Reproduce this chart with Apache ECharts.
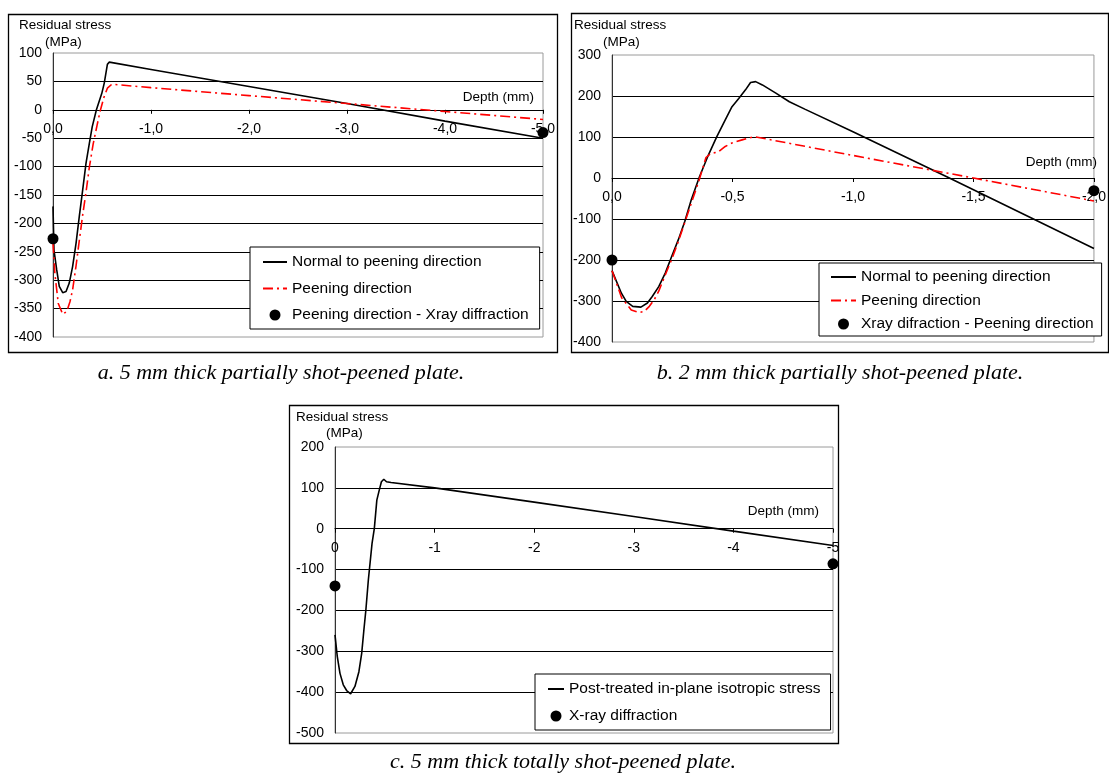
<!DOCTYPE html>
<html><head><meta charset="utf-8">
<script src="https://cdn.jsdelivr.net/npm/echarts@6.0.0/dist/echarts.min.js"></script>
<style>html,body{margin:0;padding:0;background:#fff}#c{width:1109px;height:776px}</style>
</head><body><div id="c"></div>
<script>
// ---------- Panel a: 5 mm thick partially shot-peened plate ----------
const aNormalDepth  = [0, -0.01, -0.038, -0.064, -0.099, -0.133, -0.166, -0.2, -0.235, -0.268, -0.303, -0.337, -0.37, -0.4, -0.443, -0.498, -0.523, -0.555, -0.575, -1.0, -2.0, -3.0, -4.0, -5.0];
const aNormalStress = [-170, -247, -282, -311, -322, -320, -305, -276, -235, -188, -141, -94, -60, -30, 0, 29, 47, 80, 84, 71, 41, 11, -20, -50];
const aPeenDepth    = [0, -0.02, -0.054, -0.099, -0.14, -0.173, -0.2, -0.235, -0.27, -0.303, -0.337, -0.37, -0.41, -0.45, -0.48, -0.52, -0.555, -0.6, -1.0, -2.0, -3.0, -4.0, -5.0];
const aPeenStress   = [-235, -290, -341, -360, -355, -338, -317, -275, -228, -185, -145, -102, -60, -27, -3, 22, 38, 45, 39, 25, 11, -3, -17];
const aXrayDepth    = [0, -5.0];
const aXrayStress   = [-227, -40];
const aXTicks = {min: -5, max: 0, interval: 1};
const aYTicks = {min: -400, max: 100, interval: 50};

// ---------- Panel b: 2 mm thick partially shot-peened plate ----------
const bNormalDepth  = [0, -0.039, -0.059, -0.086, -0.12, -0.147, -0.167, -0.194, -0.221, -0.248, -0.275, -0.302, -0.329, -0.363, -0.397, -0.435, -0.47, -0.498, -0.526, -0.554, -0.575, -0.596, -0.624, -0.68, -0.736, -0.8, -1.0, -1.4, -2.0];
const bNormalStress = [-226, -281, -301, -313, -315, -305, -289, -265, -232, -191, -151, -106, -53, 3, 52, 101, 142, 174, 194, 215, 233, 235, 227, 207, 186, 168, 113, 0, -172];
const bPeenDepth    = [0, -0.04, -0.08, -0.113, -0.135, -0.155, -0.175, -0.194, -0.22, -0.25, -0.275, -0.3, -0.33, -0.36, -0.39, -0.41, -0.44, -0.47, -0.5, -0.54, -0.59, -1.0, -1.5, -2.0];
const bPeenStress   = [-226, -292, -322, -328, -325, -313, -297, -276, -238, -195, -155, -112, -60, -8, 50, 60, 63, 77, 86, 93, 101, 55, 0, -56];
const bXrayDepth    = [0, -2.0];
const bXrayStress   = [-200, -31];
const bXTicks = {min: -2, max: 0, interval: 0.5};
const bYTicks = {min: -400, max: 300, interval: 100};

// ---------- Panel c: 5 mm thick totally shot-peened plate ----------
const cPostDepth  = [0, -0.023, -0.05, -0.083, -0.117, -0.157, -0.2, -0.24, -0.268, -0.29, -0.31, -0.335, -0.372, -0.395, -0.42, -0.445, -0.466, -0.49, -0.517, -0.563, -1.0, -2.0, -3.0, -4.0, -5.0];
const cPostStress = [-260, -313, -354, -382, -396, -404, -386, -350, -305, -248, -199, -125, -36, 1, 70, 95, 115, 121, 115, 113, 100, 65, 30, -6, -41];
const cXrayDepth  = [0, -5.0];
const cXrayStress = [-140, -86];
const cXTicks = {min: -5, max: 0, interval: 1};
const cYTicks = {min: -500, max: 200, interval: 100};

// ---------- texts ----------
const nameNormal = 'Normal to peening direction';
const namePeen = 'Peening direction';
const nameXrayA = 'Peening direction - Xray diffraction';
const nameXrayB = 'Xray difraction - Peening direction';
const namePost = 'Post-treated in-plane isotropic stress';
const nameXrayC = 'X-ray diffraction';
const captions = ['a. 5 mm thick partially shot-peened plate.', 'b. 2 mm thick partially shot-peened plate.', 'c. 5 mm thick totally shot-peened plate.'];

const zip = (xs, ys) => xs.map((x, i) => [x, ys[i]]);
const FONT = '"Liberation Sans", Arial, sans-serif';
const commaFmt = v => (v === 0 ? 0 : v).toFixed(1).replace('.', ',');
const intFmt = v => String(v === 0 ? 0 : v);

// layout of the three plot areas (pixels)
const grids = [
  {left: 53, top: 53, width: 490, height: 284},
  {left: 612, top: 55, width: 494, height: 287},
  {left: 335, top: 447, width: 498, height: 286}
];
const yTicksAll = [aYTicks, bYTicks, cYTicks];

function xAxisCfg(gi, t, fmt) {
  const yt = yTicksAll[gi];
  // move the depth axis up to the zero stress line
  const off = -grids[gi].height * (0 - yt.min) / (yt.max - yt.min);
  return {type: 'value', gridIndex: gi, min: t.min, max: t.max, interval: t.interval, inverse: true,
    position: 'bottom', offset: off,
    axisLine: {show: true, onZero: false, lineStyle: {color: '#000', width: 1}},
    axisTick: {show: true, length: 4, lineStyle: {color: '#000'}},
    axisLabel: {margin: 12, color: '#000', fontSize: 14, fontFamily: FONT, formatter: fmt, showMinLabel: true, showMaxLabel: true},
    splitLine: {show: false}};
}
function yAxisCfg(gi, t) {
  return {type: 'value', gridIndex: gi, min: t.min, max: t.max, interval: t.interval,
    axisLine: {show: true, onZero: false, lineStyle: {color: '#333', width: 1}},
    axisTick: {show: false},
    axisLabel: {margin: 11, color: '#000', fontSize: 14, fontFamily: FONT},
    splitLine: {show: true, showMinLine: false, showMaxLine: false, lineStyle: {color: '#000', width: 1}}};
}
const blackLine = {color: '#000', width: 1.6};
const redLine = {color: '#ff0000', width: 1.6, type: [10, 4, 2, 4]};
function lineSeries(name, gi, data, ls) {
  return {name, type: 'line', xAxisIndex: gi, yAxisIndex: gi, data, symbol: 'none', showSymbol: false,
    smooth: false, lineStyle: ls, itemStyle: {color: ls.color}, z: 3};
}
function dotSeries(name, gi, data) {
  return {name, type: 'scatter', xAxisIndex: gi, yAxisIndex: gi, data, symbol: 'circle', symbolSize: 11,
    itemStyle: {color: '#000', opacity: 1}, clip: false, z: 5};
}
const hideSym = {color: 'rgba(0,0,0,0)', borderWidth: 0, opacity: 0};
const lineItem = name => ({name, itemStyle: hideSym});
function legendCfg(data, left, top, itemWidth, itemGap, padding) {
  return {data, left, top, orient: 'vertical', itemWidth, itemHeight: 11, itemGap, padding,
    selectedMode: false, backgroundColor: '#fff', borderColor: '#000', borderWidth: 1,
    textStyle: {color: '#000', fontSize: 15.5, fontFamily: FONT, lineHeight: 16}, z: 10};
}
function txt(text, x, y, size, align) {
  return {type: 'text', x, y, z: 20, style: {text, fill: '#000', font: size + 'px ' + FONT, align: align || 'left', verticalAlign: 'middle', textAlign: align || 'left', textVerticalAlign: 'middle'}};
}
function cap(text, x, y) {
  return {type: 'text', x, y, z: 20, style: {text, fill: '#000', font: 'italic 22px "Liberation Serif", "Times New Roman", serif', align: 'center', verticalAlign: 'middle', textAlign: 'center', textVerticalAlign: 'middle'}};
}
function box(x, y, w, h) {
  return {type: 'rect', z: 1, shape: {x, y, width: w, height: h}, style: {fill: 'none', stroke: '#000', lineWidth: 1.3}};
}

const option = {
  animation: false,
  backgroundColor: '#fff',
  grid: grids.map(g => Object.assign({show: true, borderColor: '#9a9a9a', borderWidth: 1, backgroundColor: 'transparent'}, g)),
  xAxis: [xAxisCfg(0, aXTicks, commaFmt), xAxisCfg(1, bXTicks, commaFmt), xAxisCfg(2, cXTicks, intFmt)],
  yAxis: [yAxisCfg(0, aYTicks), yAxisCfg(1, bYTicks), yAxisCfg(2, cYTicks)],
  legend: [
    legendCfg([lineItem(nameNormal), lineItem(namePeen), nameXrayA], 250, 247, 24, 10.5, [7, 11, 6, 12]),
    legendCfg([lineItem(nameNormal), lineItem(namePeen), nameXrayB], 819, 263, 25, 7.5, [6, 8, 4, 11]),
    legendCfg([lineItem(namePost), nameXrayC], 535, 674, 16, 11, [7, 10, 6, 12])
  ],
  series: [
    lineSeries(nameNormal, 0, zip(aNormalDepth, aNormalStress), blackLine),
    lineSeries(namePeen, 0, zip(aPeenDepth, aPeenStress), redLine),
    dotSeries(nameXrayA, 0, zip(aXrayDepth, aXrayStress)),
    lineSeries(nameNormal, 1, zip(bNormalDepth, bNormalStress), blackLine),
    lineSeries(namePeen, 1, zip(bPeenDepth, bPeenStress), redLine),
    dotSeries(nameXrayB, 1, zip(bXrayDepth, bXrayStress)),
    lineSeries(namePost, 2, zip(cPostDepth, cPostStress), blackLine),
    dotSeries(nameXrayC, 2, zip(cXrayDepth, cXrayStress))
  ],
  graphic: [
    box(8.5, 14.5, 549, 338),
    box(571.5, 13.5, 537, 339),
    box(289.5, 405.5, 549, 338),
    txt('Residual stress', 19, 25, 13.5),
    txt('(MPa)', 45, 42, 13.5),
    txt('Residual stress', 574, 25, 13.5),
    txt('(MPa)', 603, 42, 13.5),
    txt('Residual stress', 296, 417, 13.5),
    txt('(MPa)', 326, 433, 13.5),
    txt('Depth (mm)', 534, 97, 13.5, 'right'),
    txt('Depth (mm)', 1097, 162, 13.5, 'right'),
    txt('Depth (mm)', 819, 511, 13.5, 'right'),
    cap(captions[0], 281, 373),
    cap(captions[1], 840, 373),
    cap(captions[2], 563, 762)
  ]
};
const chart = echarts.init(document.getElementById('c'));
chart.setOption(option);
</script>
</body></html>
